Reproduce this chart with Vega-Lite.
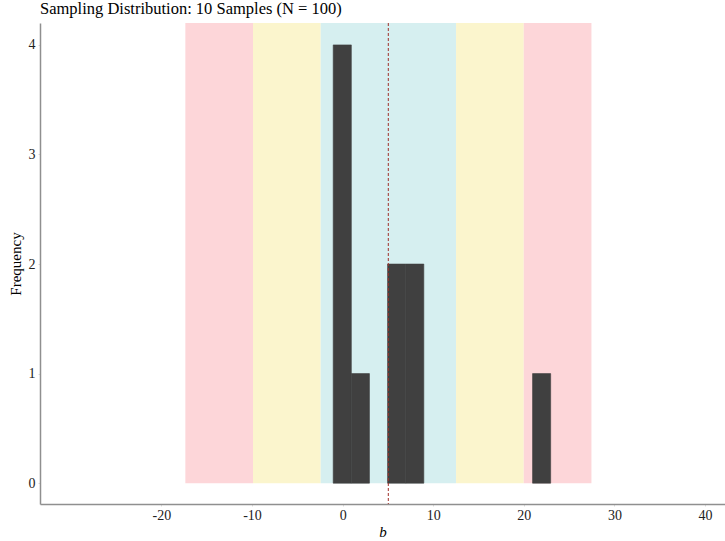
{
  "$schema": "https://vega.github.io/schema/vega-lite/v6.json",
  "width": 685,
  "height": 481,
  "autosize": {"type": "none"},
  "padding": {"left": 40, "top": 23, "right": 0, "bottom": 37},
  "background": "white",
  "title": {
    "text": "Sampling Distribution: 10 Samples (N = 100)",
    "anchor": "start",
    "frame": "group",
    "offset": 5,
    "font": "Liberation Serif",
    "fontSize": 16.5,
    "fontWeight": "normal",
    "color": "#000000"
  },
  "config": {
    "view": {"stroke": null},
    "axis": {
      "labelFont": "Liberation Serif",
      "titleFont": "Liberation Serif",
      "labelFontSize": 14,
      "titleFontSize": 15,
      "titleFontWeight": "normal",
      "labelColor": "#222222",
      "titleColor": "#000000",
      "domainColor": "#8f8f8f",
      "domainWidth": 1.5,
      "tickColor": "#dddddd",
      "tickSize": 2,
      "grid": false
    }
  },
  "datasets": {
    "bands": [
      {"start": -17.36, "end": -9.89, "zone": "outer"},
      {"start": -9.89, "end": -2.42, "zone": "middle"},
      {"start": -2.42, "end": 12.52, "zone": "inner"},
      {"start": 12.52, "end": 19.99, "zone": "middle"},
      {"start": 19.99, "end": 27.46, "zone": "outer"}
    ],
    "bins": [
      {"binStart": -1.04, "binEnd": 0.96, "count": 4},
      {"binStart": 0.96, "binEnd": 2.96, "count": 1},
      {"binStart": 4.96, "binEnd": 6.96, "count": 2},
      {"binStart": 6.96, "binEnd": 8.96, "count": 2},
      {"binStart": 20.96, "binEnd": 22.96, "count": 1}
    ],
    "mean": [{"b": 5.04}]
  },
  "layer": [
    {
      "data": {"name": "bands"},
      "mark": {"type": "rect", "opacity": 1},
      "encoding": {
        "x": {
          "field": "start",
          "type": "quantitative",
          "scale": {"domain": [-33.4, 42.2], "nice": false, "zero": false},
          "axis": {
            "values": [-20, -10, 0, 10, 20, 30, 40],
            "labelExpr": "datum.value + ''",
            "labelFont": "Liberation Serif",
            "titleFont": "Liberation Serif",
            "title": "b",
            "titleFontStyle": "italic",
            "labelPadding": 2,
            "titlePadding": 2
          }
        },
        "x2": {"field": "end"},
        "y": {
          "datum": 0,
          "type": "quantitative",
          "scale": {"domain": [-0.19, 4.2], "nice": false, "zero": false},
          "axis": {
            "values": [0, 1, 2, 3, 4],
            "labelExpr": "datum.value + ''",
            "labelFont": "Liberation Serif",
            "titleFont": "Liberation Serif",
            "title": "Frequency",
            "labelPadding": 3,
            "titlePadding": 5
          }
        },
        "y2": {"datum": 4.2},
        "color": {
          "field": "zone",
          "type": "nominal",
          "scale": {
            "domain": ["outer", "middle", "inner"],
            "range": ["#fdd6d9", "#fbf5cd", "#d6eff0"]
          },
          "legend": null
        }
      }
    },
    {
      "data": {"name": "bins"},
      "mark": {"type": "rect", "color": "#404040", "stroke": "#404040", "strokeWidth": 0.6},
      "encoding": {
        "x": {"field": "binStart", "type": "quantitative"},
        "x2": {"field": "binEnd"},
        "y": {"field": "count", "type": "quantitative"},
        "y2": {"datum": 0}
      }
    },
    {
      "data": {"name": "mean"},
      "mark": {"type": "rule", "color": "#a0302a", "strokeWidth": 1, "strokeDash": [3, 2]},
      "encoding": {
        "x": {"field": "b", "type": "quantitative"}
      }
    }
  ]
}
